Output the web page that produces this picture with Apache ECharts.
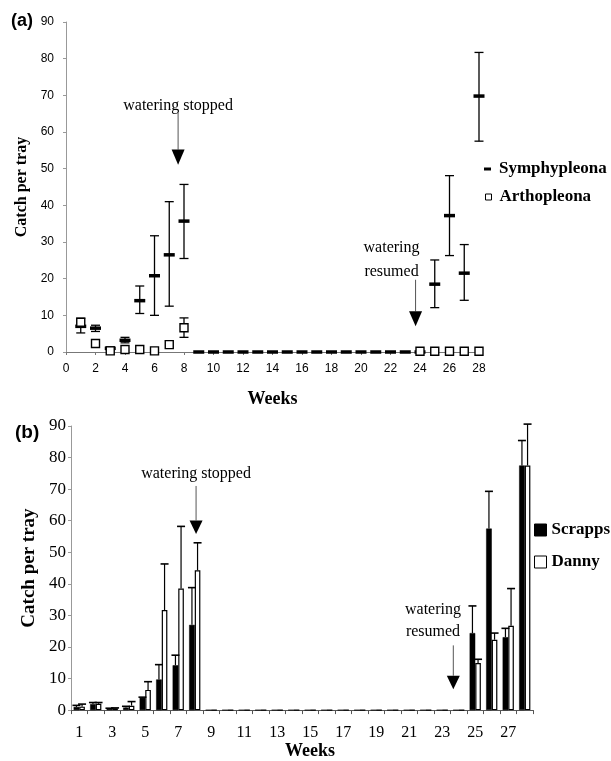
<!DOCTYPE html>
<html>
<head>
<meta charset="utf-8">
<script src="https://cdn.jsdelivr.net/npm/echarts@6/dist/echarts.min.js"></script>
<style>
html, body { margin: 0; padding: 0; background: #fff; }
#main { width: 611px; height: 761px; }
</style>
</head>
<body>
<div id="main"></div>
<script>
// panel (a): weekly catch, Symphypleona vs Arthopleona (mean with error bars)
const weeks = [1,2,3,4,5,6,7,8,9,10,11,12,13,14,15,16,17,18,19,20,21,22,23,24,25,26,27,28]
const symph     = [7.0, 6.5, 1.0, 3.2, 14.0, 20.8, 26.5, 35.7, 0,0,0,0,0,0,0,0,0,0,0,0,0,0,0, 0, 18.5, 37.2, 21.5, 69.8]
const symphLow  = [5.2, 5.6, 0.6, 2.5, 10.5, 10.0, 12.5, 25.5, null,null,null,null,null,null,null,null,null,null,null,null,null,null,null, null, 12.1, 26.3, 14.1, 57.5]
const symphHigh = [9.2, 7.3, 1.4, 4.0, 18.0, 31.7, 41.0, 45.7, null,null,null,null,null,null,null,null,null,null,null,null,null,null,null, null, 25.1, 48.1, 29.3, 81.7]
const arth      = [8.1, 2.3, 0.3, 0.7, 0.7, 0.3, 2.0, 6.6, null,null,null,null,null,null,null,null,null,null,null,null,null,null,null, 0.2, 0.2, 0.2, 0.2, 0.2]
const arthLow   = [null, null, null, null, null, null, null, 4.0, null,null,null,null,null,null,null,null,null,null,null,null,null,null,null, null, null, null, null, null]
const arthHigh  = [null, null, null, null, null, null, null, 9.3, null,null,null,null,null,null,null,null,null,null,null,null,null,null,null, null, null, null, null, null]

// panel (b): Scrapps vs Danny (bars with upper error bars)
const weekCats = weeks.map(String)
const scrapps    = [1.0, 1.9, 0.5, 0.8, 3.9, 9.7, 14.2, 27.0, 0,0,0,0,0,0,0,0,0,0,0,0,0,0,0,0, 24.4, 57.5, 23.1, 77.5]
const scrappsErr = [1.5, 2.4, 0.6, 1.2, 4.1, 14.4, 17.4, 38.8, null,null,null,null,null,null,null,null,null,null,null,null,null,null,null,null, 33.0, 69.3, 25.9, 85.4]
const danny      = [1.1, 2.0, 0.6, 1.4, 6.4, 31.7, 38.5, 44.3, 0,0,0,0,0,0,0,0,0,0,0,0,0,0,0,0, 14.9, 22.3, 26.7, 77.5]
const dannyErr   = [1.9, 2.4, 0.7, 2.7, 9.0, 46.3, 58.2, 53.0, null,null,null,null,null,null,null,null,null,null,null,null,null,null,null,null, 16.1, 24.4, 38.5, 90.6]

// arrow notes (week, value positions)
const notesA = [
    { lines: ['watering stopped'], textX: 7.6, textY: [67.2], x: 7.6, lineTop: 65.3, triTop: 55.2, tip: 51.1 },
    { lines: ['watering', 'resumed'], textX: 22.07, textY: [28.4, 21.9], x: 23.7, lineTop: 19.7, triTop: 11.1, tip: 7.0 }
]
const notesB = [
    { lines: ['watering stopped'], textX: 8.08, textY: [74.9], x: 8.08, lineTop: 71.0, triTop: 60.1, tip: 55.8 },
    { lines: ['watering', 'resumed'], textX: 22.44, textY: [31.8, 24.7], x: 23.67, lineTop: 20.5, triTop: 10.9, tip: 6.6 }
]

const SANS = '"Liberation Sans", Arial, sans-serif'
const SERIF = '"Liberation Serif", "Times New Roman", serif'

var chart = echarts.init(document.getElementById('main'))

function errRows(lo, hi) {
    var rows = []
    weeks.forEach((w, i) => {
        if (lo[i] != null && hi[i] != null) rows.push([w, lo[i], hi[i]])
    })
    return rows
}

function errItemA(params, api) {
    var x = api.value(0)
    var lo = api.coord([x, api.value(1)])
    var hi = api.coord([x, api.value(2)])
    var cw = 4.5
    var st = { stroke: '#000', lineWidth: 1.3 }
    return { type: 'group', children: [
        { type: 'line', shape: { x1: lo[0], y1: lo[1], x2: hi[0], y2: hi[1] }, style: st },
        { type: 'line', shape: { x1: lo[0] - cw, y1: lo[1], x2: lo[0] + cw, y2: lo[1] }, style: st },
        { type: 'line', shape: { x1: hi[0] - cw, y1: hi[1], x2: hi[0] + cw, y2: hi[1] }, style: st }
    ] }
}

function errItemB(side) {
    return function (params, api) {
        var i = api.value(0)
        var b = api.coord([i, api.value(1)])
        var t = api.coord([i, api.value(2)])
        var band = api.size([1, 0])[0]
        var x = b[0] + side * band * 0.17
        var cw = 4
        var st = { stroke: '#000', lineWidth: 1.2 }
        return { type: 'group', children: [
            { type: 'line', shape: { x1: x, y1: b[1], x2: x, y2: t[1] }, style: st },
            { type: 'line', shape: { x1: x - cw, y1: t[1], x2: x + cw, y2: t[1] }, style: { stroke: '#000', lineWidth: 1.6 } }
        ] }
    }
}

function barErrRows(vals, errs) {
    var rows = []
    vals.forEach((v, i) => {
        if (errs[i] != null) rows.push([i, v, errs[i]])
    })
    return rows
}

var option = {
    animation: false,
    backgroundColor: '#fff',
    title: [
        { text: '(a)', left: 6, top: 7, textStyle: { fontFamily: SANS, fontWeight: 'bold', fontSize: 18, color: '#000' } },
        { text: '(b)', left: 10, top: 418, textStyle: { fontFamily: SANS, fontWeight: 'bold', fontSize: 19, color: '#000' } }
    ],
    legend: [
        { data: [{ name: 'Symphypleona', icon: 'rect', itemStyle: { color: '#000' } }], left: 484, top: 159, padding: 0,
          itemWidth: 7, itemHeight: 3, selectedMode: false,
          textStyle: { fontFamily: SERIF, fontWeight: 'bold', fontSize: 17, color: '#000', lineHeight: 20, padding: [0, 0, 0, 3] } },
        { data: [{ name: 'Arthopleona', icon: 'rect', itemStyle: { color: '#fff', borderColor: '#000', borderWidth: 1 } }], left: 485, top: 187, padding: 0,
          itemWidth: 6, itemHeight: 6, selectedMode: false,
          textStyle: { fontFamily: SERIF, fontWeight: 'bold', fontSize: 17, color: '#000', lineHeight: 20, padding: [0, 0, 0, 3] } },
        { data: [{ name: 'Scrapps', icon: 'rect', itemStyle: { color: '#000', borderColor: '#000', borderWidth: 1 } }], left: 534, top: 520, padding: 0,
          itemWidth: 12, itemHeight: 12, selectedMode: false,
          textStyle: { fontFamily: SERIF, fontWeight: 'bold', fontSize: 17, color: '#000', lineHeight: 20 } },
        { data: [{ name: 'Danny', icon: 'rect', itemStyle: { color: '#fff', borderColor: '#000', borderWidth: 1 } }], left: 534, top: 552, padding: 0,
          itemWidth: 12, itemHeight: 12, selectedMode: false,
          textStyle: { fontFamily: SERIF, fontWeight: 'bold', fontSize: 17, color: '#000', lineHeight: 20 } }
    ],
    grid: [
        { left: 66, top: 22, width: 413, height: 330 },
        { left: 71, top: 426, width: 462, height: 292 }
    ],
    xAxis: [
        { type: 'value', gridIndex: 0, min: 0, max: 28, interval: 2,
          name: 'Weeks', nameLocation: 'middle', nameGap: 38,
          nameTextStyle: { fontFamily: SERIF, fontWeight: 'bold', fontSize: 18, color: '#000' },
          axisLine: { lineStyle: { color: '#777', width: 1 } },
          axisTick: { show: true, length: 3, lineStyle: { color: '#777' } },
          axisLabel: { fontFamily: SANS, fontSize: 12, color: '#000', margin: 11 },
          splitLine: { show: false } },
        { type: 'category', gridIndex: 1, data: weekCats,
          name: 'Weeks', nameLocation: 'middle', nameGap: 28,
          nameTextStyle: { fontFamily: SERIF, fontWeight: 'bold', fontSize: 18, color: '#000', padding: [0, 0, 0, 16] },
          axisLine: { lineStyle: { color: '#555', width: 1 } },
          axisTick: { show: true, length: 4, interval: 0, lineStyle: { color: '#555' } },
          axisLabel: { fontFamily: SERIF, fontSize: 16, color: '#000', margin: 15, interval: 1 },
          splitLine: { show: false } },
        { type: 'value', gridIndex: 1, min: 0.5, max: 28.5, show: false }
    ],
    yAxis: [
        { type: 'value', gridIndex: 0, min: 0, max: 90, interval: 10,
          name: 'Catch per tray', nameLocation: 'middle', nameGap: 34,
          nameTextStyle: { fontFamily: SERIF, fontWeight: 'bold', fontSize: 16, color: '#000' },
          axisLine: { show: true, lineStyle: { color: '#999', width: 1 } },
          axisTick: { show: true, length: 3, lineStyle: { color: '#999' } },
          axisLabel: { fontFamily: SANS, fontSize: 12, color: '#000', margin: 12 },
          splitLine: { show: false } },
        { type: 'value', gridIndex: 1, min: 0, max: 90, interval: 10,
          name: 'Catch per tray', nameLocation: 'middle', nameGap: 32,
          nameTextStyle: { fontFamily: SERIF, fontWeight: 'bold', fontSize: 19, color: '#000' },
          axisLine: { show: true, lineStyle: { color: '#999', width: 1 } },
          axisTick: { show: true, length: 3, lineStyle: { color: '#999' } },
          axisLabel: { fontFamily: SERIF, fontSize: 17, color: '#000', margin: 5 },
          splitLine: { show: false } }
    ],
    series: [
        { name: 'Symphypleona err', type: 'custom', xAxisIndex: 0, yAxisIndex: 0,
          renderItem: errItemA, data: errRows(symphLow, symphHigh), z: 2 },
        { name: 'Arthopleona err', type: 'custom', xAxisIndex: 0, yAxisIndex: 0,
          renderItem: errItemA, data: errRows(arthLow, arthHigh), z: 2 },
        { name: 'Symphypleona', type: 'scatter', xAxisIndex: 0, yAxisIndex: 0,
          symbol: 'rect', symbolSize: [11, 3.5],
          itemStyle: { color: '#000', opacity: 1 },
          data: weeks.map((w, i) => [w, symph[i]]), z: 3 },
        { name: 'Arthopleona', type: 'scatter', xAxisIndex: 0, yAxisIndex: 0,
          symbol: 'rect', symbolSize: 8,
          itemStyle: { color: '#fff', borderColor: '#000', borderWidth: 1.4, opacity: 1 },
          data: weeks.map((w, i) => [w, arth[i]]).filter(d => d[1] != null), z: 4 },

        { name: 'Scrapps', type: 'bar', xAxisIndex: 1, yAxisIndex: 1,
          barWidth: '34%', barGap: '0%',
          itemStyle: { color: '#000', borderColor: '#000', borderWidth: 0.5 },
          data: scrapps },
        { name: 'Danny', type: 'bar', xAxisIndex: 1, yAxisIndex: 1,
          barWidth: '34%', barGap: '0%',
          itemStyle: { color: '#fff', borderColor: '#000', borderWidth: 1.2 },
          data: danny },
        { name: 'Scrapps err', type: 'custom', xAxisIndex: 1, yAxisIndex: 1,
          renderItem: errItemB(-1), data: barErrRows(scrapps, scrappsErr), z: 3 },
        { name: 'Danny err', type: 'custom', xAxisIndex: 1, yAxisIndex: 1,
          renderItem: errItemB(1), data: barErrRows(danny, dannyErr), z: 3 }
    ]
}

chart.setOption(option)

// arrows and notes, placed through the axes
function noteGraphics(finder, notes) {
    var els = []
    notes.forEach(n => {
        n.lines.forEach((txt, k) => {
            var p = chart.convertToPixel(finder, [n.textX, n.textY[k]])
            els.push({ type: 'text', x: p[0], y: p[1], silent: true,
                style: { text: txt, align: 'center', verticalAlign: 'middle',
                         font: '16px ' + SERIF, fill: '#000' } })
        })
        var a = chart.convertToPixel(finder, [n.x, n.lineTop])
        var b = chart.convertToPixel(finder, [n.x, n.triTop])
        var c = chart.convertToPixel(finder, [n.x, n.tip])
        els.push({ type: 'line', silent: true,
            shape: { x1: a[0], y1: a[1], x2: b[0], y2: b[1] },
            style: { stroke: '#555', lineWidth: 1 } })
        els.push({ type: 'polygon', silent: true,
            shape: { points: [[b[0] - 6.5, b[1]], [b[0] + 6.5, b[1]], [c[0], c[1]]] },
            style: { fill: '#000' } })
    })
    return els
}

chart.setOption({
    graphic: noteGraphics({ xAxisIndex: 0, yAxisIndex: 0 }, notesA)
        .concat(noteGraphics({ xAxisIndex: 2, yAxisIndex: 1 }, notesB))
})
</script>
</body>
</html>
